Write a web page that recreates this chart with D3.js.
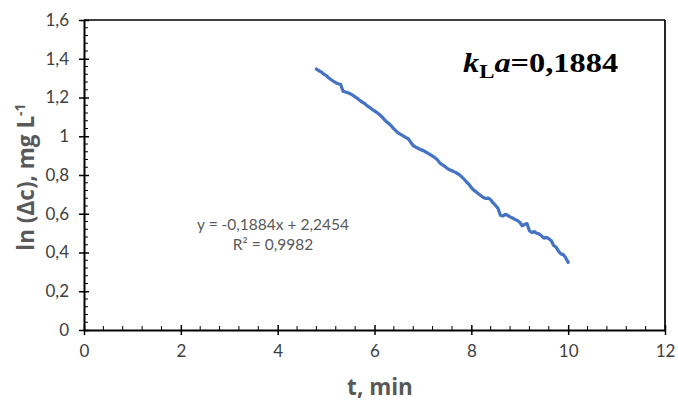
<!DOCTYPE html>
<html><head><meta charset="utf-8">
<script src="https://cdn.jsdelivr.net/npm/d3@7"></script>
<style>body{margin:0;background:#fff}svg{display:block}</style>
</head><body>
<svg id="c" width="678" height="401"></svg>
<script>
const timeValues = [4.80,4.85,4.90,4.95,5.00,5.05,5.10,5.15,5.20,5.25,5.30,5.35,5.40,5.45,5.50,5.55,5.60,5.65,5.70,5.75,5.80,5.85,5.90,5.95,6.00,6.05,6.10,6.15,6.20,6.25,6.30,6.35,6.40,6.45,6.50,6.55,6.60,6.65,6.70,6.75,6.80,6.85,6.90,6.95,7.00,7.05,7.10,7.15,7.20,7.25,7.30,7.35,7.40,7.45,7.50,7.55,7.60,7.65,7.70,7.75,7.80,7.85,7.90,7.95,8.00,8.05,8.10,8.15,8.20,8.25,8.30,8.35,8.40,8.45,8.50,8.55,8.60,8.65,8.70,8.75,8.80,8.85,8.90,8.95,9.00,9.05,9.10,9.15,9.20,9.25,9.30,9.35,9.40,9.45,9.50,9.55,9.60,9.65,9.70,9.75,9.80,9.85,9.90,9.95,10.00];
const lnValues = [1.347,1.338,1.332,1.321,1.314,1.302,1.293,1.284,1.276,1.271,1.268,1.232,1.228,1.224,1.219,1.212,1.203,1.195,1.184,1.176,1.168,1.157,1.149,1.139,1.131,1.122,1.112,1.101,1.087,1.074,1.065,1.052,1.038,1.026,1.015,1.008,1.001,0.993,0.987,0.968,0.952,0.944,0.938,0.931,0.927,0.920,0.913,0.905,0.897,0.889,0.878,0.862,0.853,0.845,0.834,0.827,0.822,0.816,0.810,0.802,0.791,0.778,0.765,0.752,0.735,0.722,0.713,0.702,0.693,0.684,0.679,0.681,0.672,0.656,0.643,0.628,0.592,0.588,0.597,0.592,0.584,0.578,0.571,0.565,0.556,0.538,0.545,0.549,0.512,0.503,0.508,0.499,0.496,0.486,0.474,0.478,0.471,0.462,0.436,0.428,0.407,0.393,0.389,0.372,0.349];
const xTicks = [0,2,4,6,8,10,12];
const yTicks = [0,0.2,0.4,0.6,0.8,1,1.2,1.4,1.6];
const trendLine1 = "y = -0,1884x + 2,2454";
const trendLine2 = "R² = 0,9982";
const xTitle = "t, min";

const svg = d3.select("#c");
const x = d3.scaleLinear().domain([0,12]).range([84,665]);
const y = d3.scaleLinear().domain([0,1.6]).range([330,20]);
const fmt = d => String(d).replace(".", ",");
const font = "Lato, 'Open Sans', sans-serif";

// frame top/right
svg.append("line").attr("x1",x(0)).attr("x2",x(12)).attr("y1",y(1.6)).attr("y2",y(1.6)).attr("stroke","#000").attr("stroke-width",1.7);
svg.append("line").attr("x1",x(12)).attr("x2",x(12)).attr("y1",y(1.6)).attr("y2",y(0)).attr("stroke","#000").attr("stroke-width",1.7);

// minor ticks
const xMinor = d3.range(0,12.001,0.4).filter(v => Math.abs(v/2 - Math.round(v/2))>1e-6);
svg.append("g").selectAll("line").data(xMinor).join("line")
  .attr("x1",d=>x(d)).attr("x2",d=>x(d)).attr("y1",y(0)).attr("y2",y(0)-4).attr("stroke","#000").attr("stroke-width",1);
const yMinor = d3.range(0,1.6001,0.04).filter(v => Math.abs(v/0.2 - Math.round(v/0.2))>1e-6);
svg.append("g").selectAll("line").data(yMinor).join("line")
  .attr("x1",x(0)).attr("x2",x(0)+4).attr("y1",d=>y(d)).attr("y2",d=>y(d)).attr("stroke","#000").attr("stroke-width",1);

// axes
const xAxis = svg.append("g").attr("transform",`translate(0,${y(0)})`)
  .call(d3.axisBottom(x).tickValues(xTicks).tickFormat(fmt).tickSize(5).tickPadding(10).tickSizeOuter(0));
xAxis.selectAll(".tick line").attr("y1",-5).attr("stroke","#000").attr("stroke-width",1.5);
xAxis.select(".domain").attr("stroke","#000").attr("stroke-width",2);
xAxis.selectAll("text").attr("font-family",font).attr("font-size",17).attr("fill","#404040");

const yAxis = svg.append("g").attr("transform",`translate(${x(0)},0)`)
  .call(d3.axisLeft(y).tickValues(yTicks).tickFormat(fmt).tickSize(5).tickPadding(10).tickSizeOuter(0));
yAxis.selectAll(".tick line").attr("x1",5).attr("stroke","#000").attr("stroke-width",1.5);
yAxis.select(".domain").attr("stroke","#000").attr("stroke-width",2);
yAxis.selectAll("text").attr("font-family",font).attr("font-size",17).attr("fill","#404040");

// data line
const pts = timeValues.map((t,i)=>[t,lnValues[i]]);
svg.append("path").datum(pts)
  .attr("d", d3.line().x(d=>x(d[0])).y(d=>y(d[1])))
  .attr("fill","none").attr("stroke","#4472C4").attr("stroke-width",3.2).attr("stroke-linejoin","round").attr("stroke-linecap","round");

// trend label
svg.append("text").attr("x",273).attr("y",230).attr("text-anchor","middle")
  .attr("font-family",font).attr("font-size",15.5).attr("fill","#595959").text(trendLine1);
svg.append("text").attr("x",273).attr("y",250).attr("text-anchor","middle")
  .attr("font-family",font).attr("font-size",15.5).attr("fill","#595959").text(trendLine2);

// kLa
const k = svg.append("text").attr("transform","translate(463,72) scale(1.2,1)").attr("font-family","'Liberation Serif', 'Times New Roman', serif")
  .attr("font-size",27).attr("font-weight","bold").attr("fill","#000");
k.append("tspan").attr("font-style","italic").text("k");
k.append("tspan").attr("font-size",19).attr("dy",6).text("L");
k.append("tspan").attr("font-style","italic").attr("dy",-6).text("a");
k.append("tspan").text("=0,1884");

// axis titles
svg.append("text").attr("x",380).attr("y",395).attr("text-anchor","middle")
  .attr("font-family","'Open Sans', sans-serif").attr("font-weight","bold").attr("font-size",22.5).attr("fill","#595959").text(xTitle);
const yt = svg.append("text").attr("transform","translate(34,177) rotate(-90)").attr("text-anchor","middle")
  .attr("font-family","'Open Sans', sans-serif").attr("font-weight","bold").attr("font-size",22.5).attr("fill","#595959");
yt.append("tspan").text("ln (Δc), mg L");
yt.append("tspan").attr("font-size",14).attr("dy",-9).text("-1");
</script>
</body></html>
